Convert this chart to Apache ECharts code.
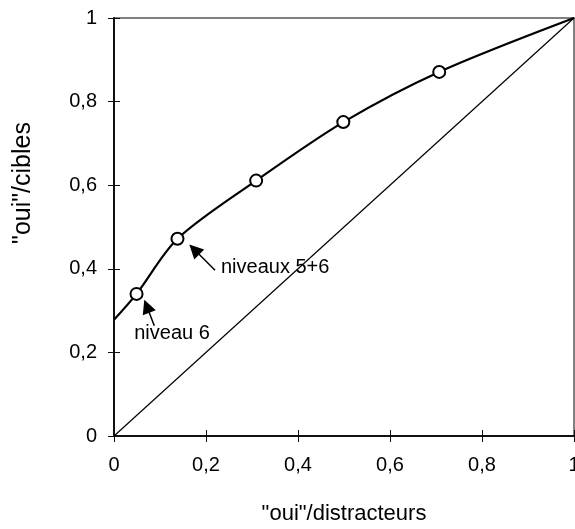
<!DOCTYPE html>
<html>
<head>
<meta charset="utf-8">
<script src="https://cdn.jsdelivr.net/npm/echarts@6/dist/echarts.min.js"></script>
<style>
  html, body { margin: 0; padding: 0; background: #fff; }
  #chart { width: 575px; height: 529px; }
</style>
</head>
<body>
<div id="chart"></div>
<script>
// courbe lissée (x = "oui"/distracteurs, y = "oui"/cibles)
const curveX = [0, 0.049, 0.138, 0.309, 0.4985, 0.707, 1];
const curveY = [0.278, 0.34, 0.472, 0.611, 0.751, 0.871, 1];
// points observés (cercles)
const pointsX = [0.049, 0.138, 0.309, 0.4985, 0.707];
const pointsY = [0.34, 0.472, 0.611, 0.751, 0.871];
// diagonale du hasard
const diagX = [0, 1];
const diagY = [0, 1];
// étiquettes des graduations
const xTickLabels = ['0', '0,2', '0,4', '0,6', '0,8', '1'];
const yTickLabels = ['0', '0,2', '0,4', '0,6', '0,8', '1'];
// annotations : texte, point du texte, queue et pointe de la flèche
const noteTexts = ['niveaux 5+6', 'niveau 6'];
const noteAt = [[0.2326, 0.403], [0.044, 0.246]];
const arrowTail = [[0.2196, 0.3964], [0.0876, 0.2638]];
const arrowHead = [[0.1745, 0.4462], [0.0713, 0.3105]];

const FONT = '"Liberation Sans", Arial, sans-serif';
const chart = echarts.init(document.getElementById('chart'));

const zip = (xs, ys) => xs.map((x, i) => [x, ys[i]]);

const baseAxis = {
  type: 'value', min: 0, max: 1, interval: 0.2,
  splitLine: { show: false }
};

const option = {
  animation: false,
  grid: {
    left: 114, right: 1, top: 18, bottom: 93,
    containLabel: false, outerBoundsMode: 'none',
    show: true, borderColor: '#808080', borderWidth: 2
  },
  xAxis: [
    Object.assign({}, baseAxis, {
      position: 'bottom',
      axisLine: { lineStyle: { color: '#111', width: 2 } },
      axisTick: { length: 6, lineStyle: { color: '#111', width: 1 } },
      axisLabel: {
        margin: 19, color: '#000', fontFamily: FONT, fontSize: 20,
        formatter: (v, i) => xTickLabels[i]
      },
      name: '"oui"/distracteurs', nameLocation: 'middle', nameGap: 67,
      nameTextStyle: { color: '#000', fontFamily: FONT, fontSize: 22 }
    }),
    Object.assign({}, baseAxis, {
      position: 'bottom',
      axisLine: { show: false },
      axisTick: { inside: true, length: 6, lineStyle: { color: '#111', width: 1 } },
      axisLabel: { show: false }
    })
  ],
  yAxis: [
    Object.assign({}, baseAxis, {
      position: 'left',
      axisLine: { lineStyle: { color: '#111', width: 2 } },
      axisTick: { length: 6, lineStyle: { color: '#111', width: 1 } },
      axisLabel: {
        margin: 17, color: '#000', fontFamily: FONT, fontSize: 20,
        formatter: (v, i) => yTickLabels[i]
      }
    }),
    Object.assign({}, baseAxis, {
      position: 'left',
      axisLine: { show: false },
      axisTick: { inside: true, length: 6, lineStyle: { color: '#111', width: 1 } },
      axisLabel: { show: false }
    })
  ],
  graphic: [{
    type: 'text', x: 23, y: 183, rotation: Math.PI / 2,
    style: {
      text: '"oui"/cibles', fill: '#000', font: '25px ' + FONT,
      textAlign: 'center', textVerticalAlign: 'middle'
    }
  }],
  series: [
    {
      type: 'line', data: zip(diagX, diagY),
      showSymbol: false, silent: true,
      lineStyle: { color: '#000', width: 1.2 }
    },
    {
      type: 'line', data: zip(curveX, curveY),
      smooth: 0.3, showSymbol: false, silent: true,
      lineStyle: { color: '#000', width: 2.2 },
      markLine: {
        silent: true, symbol: ['none', 'triangle'], symbolSize: [14, 14],
        lineStyle: { color: '#000', width: 1.5, type: 'solid' },
        label: { show: false },
        data: arrowTail.map((t, i) => [{ coord: t }, { coord: arrowHead[i] }])
      },
      markPoint: {
        silent: true, symbol: 'circle', symbolSize: 0,
        label: {
          show: true, position: 'right', distance: 0,
          color: '#000', fontFamily: FONT, fontSize: 20,
          formatter: p => p.name
        },
        data: noteTexts.map((t, i) => ({ name: t, coord: noteAt[i] }))
      }
    },
    {
      type: 'scatter', data: zip(pointsX, pointsY),
      symbol: 'circle', symbolSize: 12,
      itemStyle: { color: '#fff', borderColor: '#000', borderWidth: 2, opacity: 1 },
      z: 5
    }
  ]
};

chart.setOption(option);
</script>
</body>
</html>
